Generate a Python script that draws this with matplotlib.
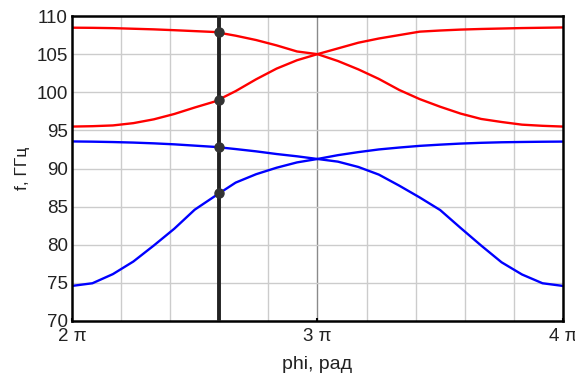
import numpy as np
import matplotlib
matplotlib.use('Agg')
import matplotlib.pyplot as plt

plt.rcParams['font.family'] = ['Liberation Sans', 'DejaVu Sans']

# phi in units of pi, sampled every pi/12
phi = [2.0, 2.0833, 2.1667, 2.25, 2.3333, 2.4167, 2.5, 2.5833, 2.6667, 2.75, 2.8333, 2.9167, 3.0,
       3.0833, 3.1667, 3.25, 3.3333, 3.4167, 3.5, 3.5833, 3.6667, 3.75, 3.8333, 3.9167, 4.0]

red_a = [108.47, 108.45, 108.41, 108.33, 108.25, 108.14, 108.02, 107.9, 107.42, 106.85, 106.15, 105.35, 105.0,
         104.1, 103.0, 101.75, 100.3, 99.1, 98.1, 97.2, 96.5, 96.1, 95.75, 95.6, 95.5]
red_b = [95.5, 95.55, 95.65, 95.95, 96.45, 97.15, 98.0, 98.8, 100.15, 101.7, 103.1, 104.2, 105.0,
         105.75, 106.5, 107.05, 107.5, 107.95, 108.1, 108.22, 108.3, 108.36, 108.42, 108.46, 108.5]
blue_a = [93.55, 93.52, 93.47, 93.4, 93.3, 93.17, 93.0, 92.83, 92.55, 92.25, 91.9, 91.6, 91.25,
          90.9, 90.2, 89.2, 87.75, 86.2, 84.55, 82.2, 79.9, 77.7, 76.1, 74.95, 74.6]
blue_b = [74.6, 74.95, 76.15, 77.8, 79.9, 82.1, 84.6, 86.4, 88.15, 89.25, 90.1, 90.8, 91.25,
          91.75, 92.15, 92.5, 92.75, 92.97, 93.13, 93.27, 93.37, 93.44, 93.48, 93.51, 93.53]

phi_cut = 2.6
cut_points = [107.85, 99.05, 92.8, 86.75]

x = np.array(phi) * np.pi

fig = plt.figure(figsize=(5.75, 3.76), dpi=100)
ax = fig.add_axes([0.1252, 0.1463, 0.8538, 0.8111])

# grid every pi/5 and every 5 GHz
for v in np.arange(2.2, 4.0, 0.2):
    col = '#8a8a8a' if abs(v - 3.0) < 1e-6 else '#cccccc'
    ax.axvline(v * np.pi, color=col, lw=1.0, zorder=0)
for v in range(75, 110, 5):
    ax.axhline(v, color='#cccccc', lw=1.0, zorder=0)

ax.plot(x, red_a, color='red', lw=1.7)
ax.plot(x, red_b, color='red', lw=1.7)
ax.plot(x, blue_a, color='blue', lw=1.7)
ax.plot(x, blue_b, color='blue', lw=1.7)

ax.axvline(phi_cut * np.pi, color='#222222', lw=2.8, zorder=3)
ax.plot([phi_cut * np.pi] * len(cut_points), cut_points, 'o', color='#333333',
        ms=6.5, zorder=4)

ax.set_xlim(2 * np.pi, 4 * np.pi)
ax.set_ylim(70, 110)
ax.set_xticks([2 * np.pi, 3 * np.pi, 4 * np.pi])
ax.set_xticklabels(['2 π', '3 π', '4 π'])
ax.set_yticks(range(70, 111, 5))
ax.tick_params(axis='x', direction='in', length=2, width=1.5, labelsize=13.5, pad=5,
               labelcolor='#222222')
ax.tick_params(axis='y', length=0, labelsize=13.5, pad=3, labelcolor='#222222')
for s in ax.spines.values():
    s.set_linewidth(1.8)
    s.set_color('black')

ax.set_xlabel('phi, рад', fontsize=14, labelpad=8, color='#222222')
ax.set_ylabel('f, ГГц', fontsize=12.5, labelpad=5, color='#222222')

fig.savefig('out.png', dpi=100)
